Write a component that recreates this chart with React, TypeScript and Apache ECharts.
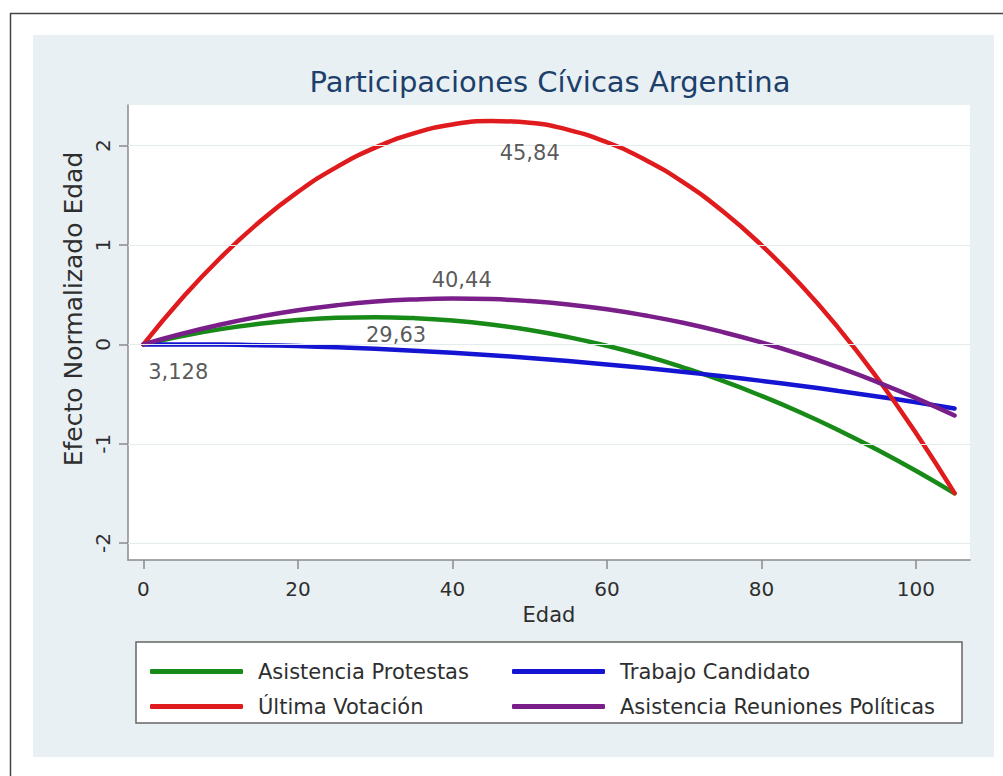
import React, { useEffect, useRef } from "react";
import * as echarts from "echarts";

// ---- data ----
const ages = [0, 5, 10, 15, 20, 25, 30, 35, 40, 45, 50, 55, 60, 65, 70, 75, 80, 85, 90, 95, 100, 105];
const protestas = [0, 0.085, 0.154, 0.207, 0.245, 0.268, 0.274, 0.265, 0.241, 0.201, 0.145, 0.073, -0.014, -0.116, -0.235, -0.368, -0.518, -0.683, -0.864, -1.06, -1.272, -1.5];
const candidato = [0, 0.0, -0.002, -0.008, -0.017, -0.029, -0.044, -0.063, -0.084, -0.108, -0.136, -0.167, -0.201, -0.238, -0.278, -0.321, -0.367, -0.416, -0.469, -0.524, -0.583, -0.645];
const votacion = [0, 0.464, 0.875, 1.232, 1.535, 1.785, 1.981, 2.124, 2.214, 2.249, 2.232, 2.16, 2.035, 1.857, 1.625, 1.34, 1.0, 0.608, 0.162, -0.338, -0.891, -1.497];
const reuniones = [0, 0.107, 0.2, 0.279, 0.344, 0.394, 0.431, 0.453, 0.462, 0.456, 0.436, 0.402, 0.354, 0.291, 0.215, 0.124, 0.02, -0.099, -0.232, -0.379, -0.54, -0.715];

const seriesNames = ["Asistencia Protestas", "Trabajo Candidato", "Última Votación", "Asistencia Reuniones Políticas"];
const seriesColors = ["#178a17", "#1414d2", "#e01b1e", "#7a1f8a"];

const xTicks = [0, 20, 40, 60, 80, 100];
const yTicks = [-2, -1, 0, 1, 2];

const annotationTexts = ["45,84", "40,44", "29,63", "3,128"];
const annotationX = [50, 41.2, 32.7, 4.5];
const annotationY = [1.93, 0.645, 0.09, -0.28];

const FONT = "DejaVu Sans";
const TEXT = "#2e2e2e";
const AXIS = "#8a8a8a";

export default function App() {
  const ref = useRef<HTMLDivElement>(null);

  useEffect(() => {
    document.body.style.margin = "0";
    if (!ref.current) return;
    const chart = echarts.init(ref.current, undefined, { renderer: "svg" });
    const allValues = [protestas, candidato, votacion, reuniones];

    const lineSeries = seriesNames.map((name, k) => ({
      type: "line",
      name,
      data: ages.map((a, i) => [a, allValues[k][i]]),
      smooth: true,
      showSymbol: false,
      symbol: "none",
      lineStyle: { width: 4.5, color: seriesColors[k], cap: "round" },
      itemStyle: { color: seriesColors[k] },
      z: 3,
      silent: true,
    }));

    const legendBase = {
      orient: "vertical",
      top: 656,
      itemWidth: 93,
      itemHeight: 5,
      itemGap: 14,
      icon: "roundRect",
      selectedMode: false,
      textStyle: { fontSize: 21, color: TEXT, fontFamily: FONT, lineHeight: 21, padding: [0, 0, 0, 10] },
    };

    chart.setOption({
      animation: false,
      backgroundColor: "#ffffff",
      title: {
        text: "Participaciones Cívicas Argentina",
        left: 545,
        top: 62,
        textAlign: "center",
        textStyle: { fontSize: 29, fontWeight: "normal", color: "#1c3f6c", fontFamily: FONT },
      },
      legend: [
        { ...legendBase, left: 145, data: [seriesNames[0], seriesNames[2]] },
        { ...legendBase, left: 507, data: [seriesNames[1], seriesNames[3]] },
      ],
      grid: {
        left: 128,
        right: 33,
        top: 105,
        bottom: 216,
        show: true,
        backgroundColor: "#ffffff",
        borderWidth: 0,
      },
      xAxis: {
        type: "value",
        min: -2,
        max: 107,
        name: "Edad",
        nameLocation: "middle",
        nameGap: 44,
        nameTextStyle: { fontSize: 21, color: TEXT, fontFamily: FONT },
        axisLine: { show: true, onZero: false, lineStyle: { color: AXIS, width: 1.5 } },
        axisTick: { show: true, length: 9, customValues: xTicks, lineStyle: { color: AXIS, width: 1.5 } },
        axisLabel: { customValues: xTicks, fontSize: 20, color: TEXT, fontFamily: FONT, margin: 19 },
        splitLine: { show: false },
      },
      yAxis: {
        type: "value",
        min: -2.17,
        max: 2.41,
        axisLine: { show: true, onZero: false, lineStyle: { color: AXIS, width: 1.5 } },
        axisTick: { show: true, length: 9, customValues: yTicks, lineStyle: { color: AXIS, width: 1.5 } },
        axisLabel: { customValues: yTicks, rotate: 90, fontSize: 20, color: TEXT, fontFamily: FONT, margin: 15 },
        splitLine: { show: false },
      },
      graphic: [
        { type: "rect", z: -10, shape: { x: 33, y: 35, width: 961, height: 722 }, style: { fill: "#e9f0f3" } },
        { type: "line", z: -9, shape: { x1: 10, y1: 13.5, x2: 1003, y2: 13.5 }, style: { stroke: "#444", lineWidth: 1.5 } },
        { type: "line", z: -9, shape: { x1: 10.5, y1: 13, x2: 10.5, y2: 776 }, style: { stroke: "#444", lineWidth: 1.5 } },
        { type: "rect", z: 1, shape: { x: 136, y: 642, width: 826, height: 81 }, style: { fill: "#ffffff", stroke: "#666", lineWidth: 1.5 } },
        {
          type: "text",
          z: 5,
          x: 73,
          y: 309,
          rotation: Math.PI / 2,
          style: {
            text: "Efecto Normalizado Edad",
            fontSize: 25,
            fontFamily: FONT,
            fill: TEXT,
            align: "center",
            verticalAlign: "middle",
          },
        },
      ],
      series: [
        {
          type: "line",
          data: [],
          z: 1,
          silent: true,
          markLine: {
            silent: true,
            symbol: "none",
            label: { show: false },
            lineStyle: { color: "#e3ebee", width: 1, type: "solid" },
            data: yTicks.map((v) => ({ yAxis: v })),
          },
        },
        ...lineSeries,
        {
          type: "scatter",
          z: 5,
          silent: true,
          symbolSize: 1,
          itemStyle: { color: "rgba(0,0,0,0)" },
          data: annotationTexts.map((t, i) => [annotationX[i], annotationY[i], t]),
          label: {
            show: true,
            position: "inside",
            formatter: (p: any) => p.data[2],
            fontSize: 21,
            color: TEXT,
            fontFamily: FONT,
          },
        },
      ],
    });
    return () => chart.dispose();
  }, []);

  return <div ref={ref} style={{ width: 1003, height: 776 }} />;
}
